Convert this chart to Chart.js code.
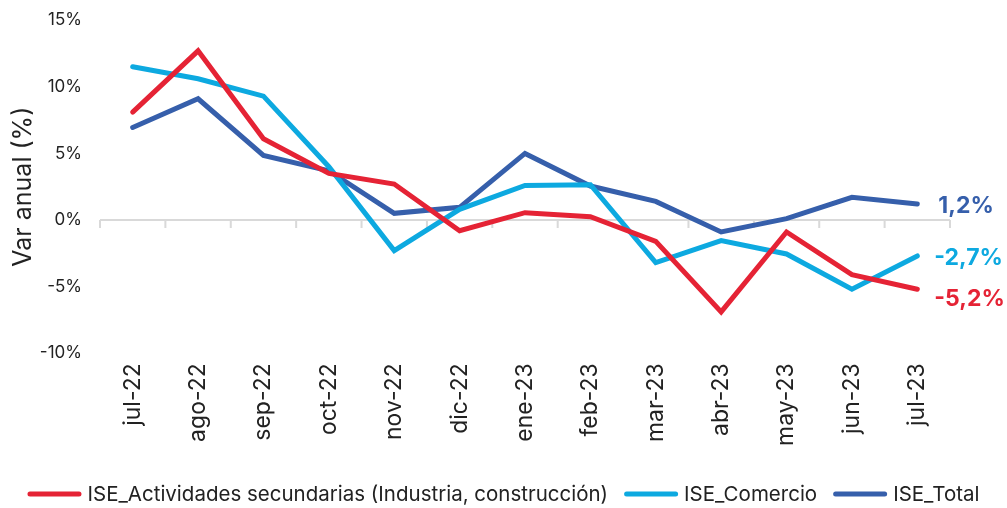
<!DOCTYPE html>
<html>
<head>
<meta charset="utf-8">
<script src="https://cdn.jsdelivr.net/npm/chart.js@4.4.0/dist/chart.umd.min.js"></script>
<style>
  html, body { margin: 0; padding: 0; background: #fff; }
  #wrap { width: 1007px; height: 508px; position: relative; }
</style>
</head>
<body>
<div id="wrap"><canvas id="iseChart"></canvas></div>
<script>
// Data
const months = ['jul-22', 'ago-22', 'sep-22', 'oct-22', 'nov-22', 'dic-22', 'ene-23',
                'feb-23', 'mar-23', 'abr-23', 'may-23', 'jun-23', 'jul-23'];
const secundarias = [8.1, 12.7, 6.1, 3.5, 2.7, -0.8, 0.55, 0.25, -1.6, -6.9, -0.9, -4.1, -5.2];
const comercio = [11.5, 10.6, 9.3, 4.0, -2.3, 0.8, 2.6, 2.65, -3.2, -1.55, -2.55, -5.2, -2.7];
const total = [6.95, 9.1, 4.85, 3.7, 0.5, 0.95, 5.0, 2.55, 1.4, -0.9, 0.1, 1.7, 1.2];
const yTicks = [-10, -5, 0, 5, 10, 15];

const RED = '#E52335';
const CYAN = '#0DA9E0';
const BLUE = '#365FAB';
const FONT = 'Inter, "DejaVu Sans", sans-serif';

// Gray axis line across y = 0 with ticks between categories
const zeroAxisPlugin = {
    id: 'zeroAxis',
    beforeDatasetsDraw(chart) {
        const { ctx, chartArea, scales } = chart;
        const y = scales.y.getPixelForValue(0);
        const n = chart.data.labels.length;
        const step = (chartArea.right - chartArea.left) / n;
        ctx.save();
        ctx.strokeStyle = '#d9d9d9';
        ctx.lineWidth = 2;
        ctx.beginPath();
        ctx.moveTo(chartArea.left, y);
        ctx.lineTo(chartArea.right, y);
        for (let i = 0; i <= n; i++) {
            const x = chartArea.left + i * step;
            ctx.moveTo(x, y);
            ctx.lineTo(x, y + 8);
        }
        ctx.stroke();
        ctx.restore();
    }
};

// Value labels next to the last point of each series
const endLabelPlugin = {
    id: 'endLabels',
    afterDatasetsDraw(chart) {
        const { ctx } = chart;
        ctx.save();
        ctx.font = 'bold 23px ' + FONT;
        ctx.textAlign = 'left';
        ctx.textBaseline = 'middle';
        chart.data.datasets.forEach((ds, i) => {
            const meta = chart.getDatasetMeta(i);
            const last = meta.data[meta.data.length - 1];
            const v = ds.data[ds.data.length - 1];
            ctx.fillStyle = ds.borderColor;
            ctx.fillText(v.toFixed(1).replace('.', ',') + '%', last.x + ds.labelDx, last.y + ds.labelDy);
        });
        ctx.restore();
    }
};

// One-row legend at the bottom, line markers close to their text
const lineLegendPlugin = {
    id: 'lineLegend',
    afterDraw(chart) {
        const { ctx, width } = chart;
        const markW = 54, markH = 5, textGap = 6, itemGap = 16;
        const y = 494;
        ctx.save();
        ctx.font = '20.5px ' + FONT;
        ctx.textBaseline = 'middle';
        const items = chart.data.datasets.map(ds => ({
            text: ds.label, color: ds.borderColor, w: ctx.measureText(ds.label).width
        }));
        let total = items.reduce((s, it) => s + markW + textGap + it.w, 0) + itemGap * (items.length - 1);
        let x = (width - total) / 2;
        items.forEach(it => {
            ctx.fillStyle = it.color;
            ctx.beginPath();
            ctx.roundRect(x, y - markH / 2, markW, markH, 2.5);
            ctx.fill();
            x += markW + textGap;
            ctx.fillStyle = '#222';
            ctx.fillText(it.text, x, y + 1);
            x += it.w + itemGap;
        });
        ctx.restore();
    }
};

new Chart(document.getElementById('iseChart'), {
    type: 'line',
    data: {
        labels: months,
        datasets: [
            {
                label: 'ISE_Actividades secundarias (Industria, construcción)',
                data: secundarias,
                borderColor: RED,
                backgroundColor: RED,
                labelDx: 17,
                labelDy: 10
            },
            {
                label: 'ISE_Comercio',
                data: comercio,
                borderColor: CYAN,
                backgroundColor: CYAN,
                labelDx: 17,
                labelDy: 2
            },
            {
                label: 'ISE_Total',
                data: total,
                borderColor: BLUE,
                backgroundColor: BLUE,
                labelDx: 21,
                labelDy: 2
            }
        ]
    },
    options: {
        responsive: true,
        maintainAspectRatio: false,
        animation: false,
        elements: {
            line: { borderWidth: 5, tension: 0, borderCapStyle: 'round', borderJoinStyle: 'miter' },
            point: { radius: 0, hoverRadius: 0 }
        },
        layout: { padding: { top: 0, right: 57, left: 8, bottom: 60 } },
        plugins: {
            legend: { display: false },
            tooltip: { enabled: false }
        },
        scales: {
            x: {
                offset: true,
                grid: { display: false },
                border: { display: false },
                ticks: {
                    color: '#222',
                    font: { family: FONT, size: 23 },
                    minRotation: 90,
                    maxRotation: 90,
                    padding: 2
                }
            },
            y: {
                min: -10,
                max: 15,
                afterBuildTicks: axis => { axis.ticks = yTicks.map(v => ({ value: v })); },
                afterFit: axis => { axis.width = 92; },
                grid: { display: false },
                border: { display: false },
                ticks: {
                    color: '#222',
                    font: { family: FONT, size: 17 },
                    padding: 10,
                    callback: value => `${value}%`
                },
                title: {
                    display: true,
                    text: 'Var anual (%)',
                    color: '#222',
                    font: { family: FONT, size: 25 },
                    padding: { top: 0, bottom: 4 }
                }
            }
        }
    },
    plugins: [zeroAxisPlugin, endLabelPlugin, lineLegendPlugin]
});
</script>
</body>
</html>
